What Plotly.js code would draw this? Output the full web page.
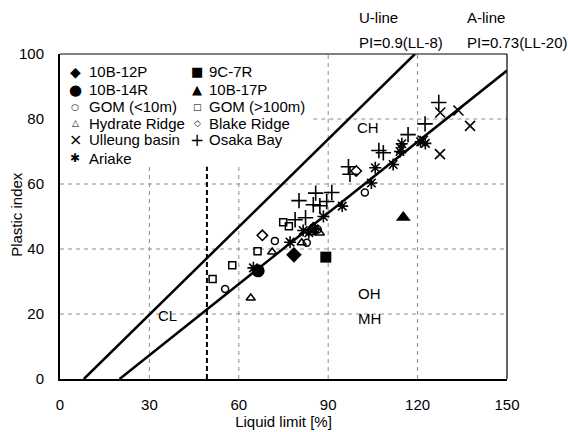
<!DOCTYPE html>
<html>
<head>
<meta charset="utf-8">
<script src="https://cdn.plot.ly/plotly-3.0.1.min.js"></script>
<style>html,body{margin:0;padding:0;background:#fff;}#chart{width:568px;height:432px;}</style>
</head>
<body>
<div id="chart"></div>
<script>
// ---- data (Liquid limit [%], Plastic index) ----
const ll_10B12P = [78.5];
const pi_10B12P = [38.2];
const ll_9C7R = [89.2];
const pi_9C7R = [37.5];
const ll_10B14R = [66.5];
const pi_10B14R = [33.3];
const ll_10B17P = [115.2];
const pi_10B17P = [49.7];
const ll_gomShallow = [55.4, 72.1, 82.8, 86.5, 102.3];
const pi_gomShallow = [27.7, 42.5, 41.9, 46.0, 57.4];
const ll_gomDeep = [51.2, 57.8, 66.3, 74.9, 76.8];
const pi_gomDeep = [30.8, 35.0, 39.3, 48.2, 47.0];
const ll_hydrate = [64.0, 71.2, 81.1, 84.5, 87.2];
const pi_hydrate = [24.9, 39.1, 41.9, 45.0, 44.9];
const ll_blake = [67.9, 85.0, 99.4];
const pi_blake = [44.2, 46.5, 64.0];
const ll_ulleung = [114.5, 121.8, 127.5, 127.6, 133.7, 137.6];
const pi_ulleung = [71.0, 73.3, 69.2, 82.0, 82.6, 77.9];
const ll_osaka = [78.9, 82.4, 80.2, 85.0, 87.2, 89.5, 85.8, 91.2, 96.8, 97.3, 107.0, 108.5, 116.8, 122.5, 127.1];
const pi_osaka = [49.0, 49.6, 54.9, 53.6, 53.3, 54.6, 57.2, 57.4, 65.3, 63.0, 70.3, 69.6, 75.2, 78.5, 85.1];
const ll_ariake = [64.9, 77.2, 81.6, 83.5, 85.3, 88.4, 94.7, 104.5, 105.8, 111.8, 114.1, 114.7, 121.0, 122.6];
const pi_ariake = [34.2, 42.1, 45.7, 45.0, 46.2, 50.0, 53.2, 60.3, 65.0, 66.0, 70.0, 72.4, 73.0, 72.5];

// reference lines
const uLineLL = [8, 119.1];
const uLinePI = [0, 100];
const aLineLL = [20, 150];
const aLinePI = [0, 94.9];
const llBoundary = 49.3;

const xTicks = [0, 30, 60, 90, 120, 150];
const yTicks = [0, 20, 40, 60, 80, 100];

const seriesNames = ['10B-12P', '9C-7R', '10B-14R', '10B-17P', 'GOM (<10m)', 'GOM (>100m)',
  'Hydrate Ridge', 'Blake Ridge', 'Ulleung basin', 'Osaka Bay', 'Ariake'];
const legendGlyphs = ['\u25C6', '\u25A0', '\u25CF', '\u25B2', '\u25CB', '\u25A1', '\u25B3', '\u25C7', '\u00D7', '+', '\u2731'];
const regionLabels = ['CH', 'OH', 'MH', 'CL'];
const regionLL = [103.2, 103.7, 103.7, 36.1];
const regionPI = [77.3, 26.2, 18.6, 19.5];

const FONT = 'Liberation Sans, Arial, sans-serif';
const SYM = 'DejaVu Sans, sans-serif';

function pts(name, x, y, marker) {
  return {type: 'scatter', mode: 'markers', name: name, x: x, y: y, marker: marker,
    showlegend: false, hoverinfo: 'x+y+name', cliponaxis: false};
}

const traces = [
  {type: 'scatter', mode: 'lines', x: uLineLL, y: uLinePI, line: {color: '#000', width: 2.5}, showlegend: false, name: 'U-line'},
  {type: 'scatter', mode: 'lines', x: aLineLL, y: aLinePI, line: {color: '#000', width: 2.5}, showlegend: false, name: 'A-line'},
  pts(seriesNames[4], ll_gomShallow, pi_gomShallow, {symbol: 'circle-open', size: 7, color: '#000', line: {width: 1.5}}),
  pts(seriesNames[5], ll_gomDeep, pi_gomDeep, {symbol: 'square-open', size: 7, color: '#000', line: {width: 1.5}}),
  pts(seriesNames[6], ll_hydrate, pi_hydrate, {symbol: 'triangle-up-open', size: 8, color: '#000', line: {width: 1.5}}),
  pts(seriesNames[7], ll_blake, pi_blake, {symbol: 'diamond-open', size: 8, color: '#000', line: {width: 1.5}}),
  pts(seriesNames[8], ll_ulleung, pi_ulleung, {symbol: 'x-thin-open', size: 10, color: '#000', line: {width: 1.6}}),
  pts(seriesNames[9], ll_osaka, pi_osaka, {symbol: 'cross-thin-open', size: 11, color: '#000', line: {width: 1.6}}),
  pts(seriesNames[10], ll_ariake, pi_ariake, {symbol: 'asterisk-open', size: 10, color: '#000', line: {width: 1.6}}),
  pts(seriesNames[0], ll_10B12P, pi_10B12P, {symbol: 'diamond', size: 12, color: '#000'}),
  pts(seriesNames[1], ll_9C7R, pi_9C7R, {symbol: 'square', size: 11, color: '#000'}),
  pts(seriesNames[2], ll_10B14R, pi_10B14R, {symbol: 'circle', size: 13, color: '#000'}),
  pts(seriesNames[3], ll_10B17P, pi_10B17P, {symbol: 'triangle-up', size: 13, color: '#000'})
];

// plot-area geometry helpers (paper fractions)
const plotL = 60, plotR = 507, plotT = 54, plotB = 379.3;
const W = plotR - plotL, H = plotB - plotT;
const px = v => (v - plotL) / W;
const py = v => (plotB - v) / H;

const annotations = [];
// legend (two columns, drawn as text)
const rowsY = [71.7, 90, 106.7, 123.3, 140, 158.3];
const glyphSize = [14, 13, 15, 13, 9, 9, 9, 9, 16, 17, 12];
const colSym = [75, 197], colTxt = [87, 207];
seriesNames.forEach((n, i) => {
  const col = i % 2, row = Math.floor(i / 2);
  annotations.push({xref: 'paper', yref: 'paper', x: px(colSym[col]), y: py(rowsY[row]), text: legendGlyphs[i],
    showarrow: false, xanchor: 'center', yanchor: 'middle', font: {family: SYM, size: glyphSize[i], color: '#000'}});
  annotations.push({xref: 'paper', yref: 'paper', x: px(colTxt[col]), y: py(rowsY[row]), text: n,
    showarrow: false, xanchor: 'left', yanchor: 'middle', font: {family: FONT, size: 15, color: '#000'}});
});
// region labels
regionLabels.forEach((t, i) => {
  annotations.push({xref: 'x', yref: 'y', x: regionLL[i], y: regionPI[i], text: t, showarrow: false,
    xanchor: 'center', yanchor: 'middle', font: {family: FONT, size: 15, color: '#000'}});
});
// line equations above the plot
const lineTexts = [['U-line', 357, 17], ['PI=0.9(LL-8)', 357, 42], ['A-line', 465, 17], ['PI=0.73(LL-20)', 465, 42]];
lineTexts.forEach(t => {
  annotations.push({xref: 'paper', yref: 'paper', x: px(t[1]), y: py(t[2]), text: t[0], showarrow: false,
    xanchor: 'left', yanchor: 'middle', font: {family: FONT, size: 15, color: '#000'}});
});
// y-axis title
annotations.push({xref: 'paper', yref: 'paper', x: px(17), y: py(215), text: 'Plastic index', textangle: -90,
  showarrow: false, xanchor: 'center', yanchor: 'middle', font: {family: FONT, size: 15, color: '#000'}});

// gridlines as shapes (hidden behind legend block in the upper-left)
const shapes = [];
const gridStyle = {color: '#8c8c8c', width: 1, dash: '4px,4px'};
const legendTopPI = 65.3, legendRightLL = 85;
[30, 60, 90, 120].forEach(v => {
  shapes.push({type: 'line', xref: 'x', yref: 'y', x0: v, x1: v, y0: 0, y1: v < legendRightLL ? legendTopPI : 100, line: gridStyle, layer: 'below'});
});
[20, 40, 60, 80].forEach(v => {
  shapes.push({type: 'line', xref: 'x', yref: 'y', x0: v > legendTopPI ? legendRightLL : 0, x1: 150, y0: v, y1: v, line: gridStyle, layer: 'below'});
});
// LL = 50 boundary
shapes.push({type: 'line', xref: 'x', yref: 'y', x0: llBoundary, x1: llBoundary, y0: 0, y1: legendTopPI,
  line: {color: '#000', width: 2, dash: '5px,3px'}, layer: 'below'});
// thin top and right frame
shapes.push({type: 'line', xref: 'paper', yref: 'paper', x0: 0, x1: 1, y0: 1, y1: 1, line: {color: '#000', width: 1.2}});
shapes.push({type: 'line', xref: 'paper', yref: 'paper', x0: 1, x1: 1, y0: 0, y1: 1, line: {color: '#000', width: 1.2}});

const layout = {
  width: 568, height: 432,
  margin: {l: plotL, r: 568 - plotR, t: plotT, b: 432 - plotB, pad: 0},
  paper_bgcolor: '#fff', plot_bgcolor: '#fff',
  font: {family: FONT, size: 15, color: '#000'},
  showlegend: false,
  xaxis: {range: [0, 150], tickvals: xTicks, ticktext: xTicks.map(String), showgrid: false, zeroline: false,
    showline: true, linecolor: '#000', linewidth: 2, ticks: '', ticklabelstandoff: 11,
    tickfont: {family: FONT, size: 15, color: '#000'},
    title: {text: 'Liquid limit [%]', font: {family: FONT, size: 15, color: '#000'}, standoff: 1}, automargin: false},
  yaxis: {range: [0, 100], tickvals: yTicks, ticktext: yTicks.map(String), showgrid: false, zeroline: false,
    showline: true, linecolor: '#000', linewidth: 2, ticks: '', ticklabelstandoff: 11,
    tickfont: {family: FONT, size: 15, color: '#000'}, automargin: false},
  annotations: annotations,
  shapes: shapes
};

Plotly.newPlot('chart', traces, layout, {staticPlot: true, displayModeBar: false});
</script>
</body>
</html>
